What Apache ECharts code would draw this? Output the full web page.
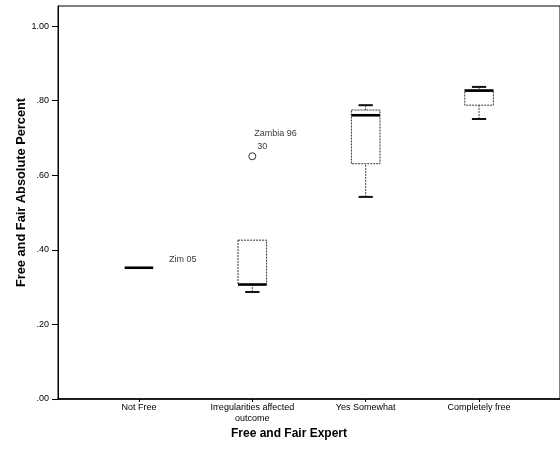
<!DOCTYPE html>
<html>
<head>
<meta charset="utf-8">
<script src="https://cdn.jsdelivr.net/npm/echarts@6/dist/echarts.min.js"></script>
<style>
html,body{margin:0;padding:0;background:#fff;}
#chart{width:560px;height:454px;}
</style>
</head>
<body>
<div id="chart"></div>
<script>
// ---- data ----
var categories = ['Not Free', 'Irregularities affected\noutcome', 'Yes Somewhat', 'Completely free'];
var lowWhisker  = [0.352, 0.287, 0.542, 0.751];
var q1          = [0.352, 0.307, 0.631, 0.788];
var median      = [0.352, 0.307, 0.761, 0.827];
var q3          = [0.352, 0.426, 0.775, 0.829];
var highWhisker = [0.352, 0.426, 0.788, 0.837];

var outlierCat   = [1];
var outlierValue = [0.651];
var outlierName  = ['Zambia 96'];
var outlierCase  = ['30'];

var caseLabelCat   = [0];
var caseLabelValue = [0.352];
var caseLabelText  = ['Zim 05'];

var yTicks = [0, 0.2, 0.4, 0.6, 0.8, 1.0];

// ---- build ----
var boxData = categories.map(function (c, i) {
  return [i, lowWhisker[i], q1[i], median[i], q3[i], highWhisker[i]];
});
var outlierData = outlierCat.map(function (c, i) {
  return { value: [c, outlierValue[i]], name: outlierName[i], caseId: outlierCase[i] };
});
var caseLabelData = caseLabelCat.map(function (c, i) {
  return { value: [c, caseLabelValue[i]], name: caseLabelText[i] };
});

var HALF = 0.126;
function renderBox(params, api) {
  var x = api.value(0);
  var lo = api.value(1), a = api.value(2), m = api.value(3), b = api.value(4), hi = api.value(5);
  var left = api.coord([x - HALF, 0])[0];
  var right = api.coord([x + HALF, 0])[0];
  var cx = api.coord([x, 0])[0];
  var capL = api.coord([x - HALF / 2, 0])[0];
  var capR = api.coord([x + HALF / 2, 0])[0];
  function Y(v) { return api.coord([x, v])[1]; }
  var children = [];
  if (lo < a) {
    children.push({ type: 'line', shape: { x1: cx, y1: Y(lo), x2: cx, y2: Y(a) },
      style: { stroke: '#444', lineWidth: 1, lineDash: [2, 1] } });
    children.push({ type: 'line', shape: { x1: capL, y1: Y(lo), x2: capR, y2: Y(lo) },
      style: { stroke: '#111', lineWidth: 2 } });
  }
  if (hi > b) {
    children.push({ type: 'line', shape: { x1: cx, y1: Y(hi), x2: cx, y2: Y(b) },
      style: { stroke: '#444', lineWidth: 1, lineDash: [2, 1] } });
    children.push({ type: 'line', shape: { x1: capL, y1: Y(hi), x2: capR, y2: Y(hi) },
      style: { stroke: '#111', lineWidth: 2 } });
  }
  if (b > a) {
    children.push({ type: 'rect', shape: { x: left, y: Y(b), width: right - left, height: Y(a) - Y(b) },
      style: { fill: '#fff', stroke: '#333', lineWidth: 1, lineDash: [2, 1] } });
  }
  children.push({ type: 'line', shape: { x1: left, y1: Y(m), x2: right, y2: Y(m) },
    style: { stroke: '#000', lineWidth: 2.6 } });
  return { type: 'group', children: children };
}

var chart = echarts.init(document.getElementById('chart'), null, { renderer: 'canvas' });
var FONT = 'Liberation Sans, Arial, sans-serif';
chart.setOption({
  backgroundColor: '#fff',
  animation: false,
  grid: { left: 58, top: 6, right: -6, bottom: 55, show: true, borderColor: '#000', borderWidth: 1, backgroundColor: 'transparent' },
  xAxis: {
    type: 'value',
    min: -0.714, max: 3.714,
    name: 'Free and Fair Expert',
    nameLocation: 'middle',
    nameGap: 29,
    nameMoveOverlap: false,
    nameTextStyle: { fontFamily: FONT, fontWeight: 'bold', fontSize: 12, color: '#000', padding: [0, 40, 0, 0] },
    axisLine: { show: true, onZero: false, lineStyle: { color: '#000', width: 1.5 } },
    axisTick: { show: true, length: 3, lineStyle: { color: '#000' }, customValues: [0, 1, 2, 3] },
    axisLabel: {
      customValues: [0, 1, 2, 3],
      margin: 3,
      fontFamily: FONT, fontSize: 9, color: '#000', lineHeight: 11,
      formatter: function (v) { return categories[Math.round(v)] || ''; }
    },
    splitLine: { show: false }
  },
  yAxis: {
    type: 'value',
    min: 0, max: 1.054,
    name: 'Free and Fair Absolute Percent',
    nameLocation: 'middle',
    nameGap: 30,
    nameMoveOverlap: false,
    nameTextStyle: { fontFamily: FONT, fontWeight: 'bold', fontSize: 12.8, color: '#000', padding: [0, 0, 0, 20] },
    axisLine: { show: true, onZero: false, lineStyle: { color: '#000', width: 1 } },
    axisTick: { show: true, length: 6, lineStyle: { color: '#000' }, customValues: yTicks },
    axisLabel: {
      customValues: yTicks,
      margin: 9,
      fontFamily: FONT, fontSize: 9, color: '#000',
      formatter: function (v) { return v.toFixed(2).replace(/^0/, ''); }
    },
    splitLine: { show: false }
  },
  series: [
    {
      type: 'custom',
      name: 'box',
      renderItem: renderBox,
      encode: { x: 0, y: [1, 2, 3, 4, 5] },
      data: boxData,
      z: 2
    },
    {
      type: 'scatter',
      name: 'outliers',
      symbol: 'circle',
      symbolSize: 7,
      itemStyle: { color: '#fff', borderColor: '#000', borderWidth: 1 },
      label: {
        show: true,
        position: [6, -25],
        align: 'left',
        verticalAlign: 'top',
        fontFamily: FONT, fontSize: 9, color: '#000', lineHeight: 13,
        formatter: function (p) { return '{a|' + p.data.name + '}\n{b|' + p.data.caseId + '}'; },
        rich: { a: { fontFamily: FONT, fontSize: 9, color: '#000', lineHeight: 13 },
                b: { fontFamily: FONT, fontSize: 9, color: '#000', lineHeight: 13, padding: [0, 0, 0, 3] } }
      },
      data: outlierData,
      z: 3
    },
    {
      type: 'scatter',
      name: 'caseLabels',
      symbolSize: 0,
      itemStyle: { color: 'transparent' },
      label: {
        show: true,
        position: [30, -13],
        align: 'left',
        verticalAlign: 'top',
        fontFamily: FONT, fontSize: 9, color: '#000',
        formatter: function (p) { return p.data.name; }
      },
      data: caseLabelData,
      z: 3
    }
  ]
});
</script>
</body>
</html>
